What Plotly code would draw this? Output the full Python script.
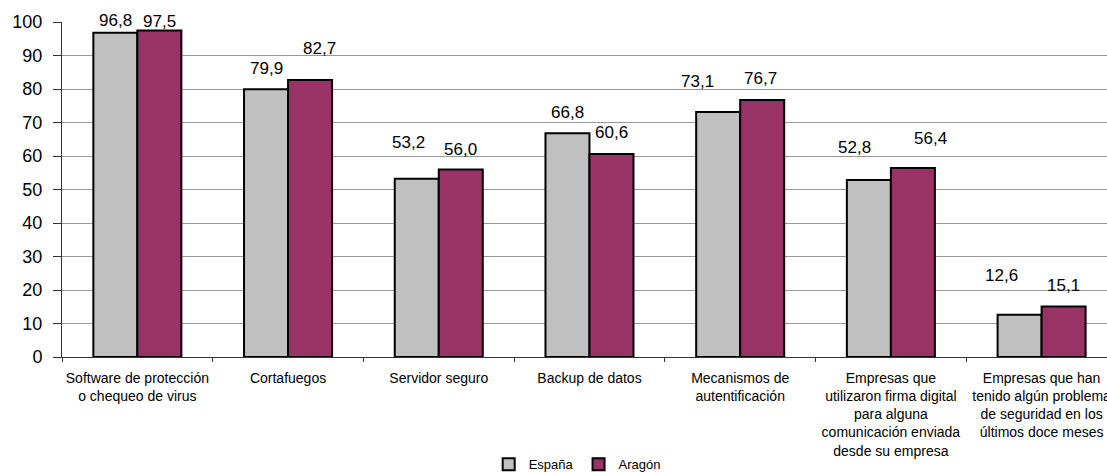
import plotly.graph_objects as go

categories = [
    "Software de protección<br>o chequeo de virus",
    "Cortafuegos",
    "Servidor seguro",
    "Backup de datos",
    "Mecanismos de<br>autentificación",
    "Empresas que<br>utilizaron firma digital<br>para alguna<br>comunicación enviada<br>desde su empresa",
    "Empresas que han<br>tenido algún problema<br>de seguridad en los<br>últimos doce meses",
]
espana = [96.8, 79.9, 53.2, 66.8, 73.1, 52.8, 12.6]
aragon = [97.5, 82.7, 56.0, 60.6, 76.7, 56.4, 15.1]
series_names = ["España", "Aragón"]

# label placement tweaks (pixels), layout only
label_shift_es = [(0, 12), (0, 21), (-8, 36), (0, 21), (-21, 31), (-14, 33), (-18, 39)]
label_shift_ar = [(0, 9), (9, 31), (0, 20), (0, 21), (-2, 22), (18, 30), (0, 21)]

FONT = "Liberation Sans, Arial, sans-serif"
bargap = 0.416

fig = go.Figure()
fig.add_trace(go.Bar(x=categories, y=espana, name=series_names[0],
                     marker=dict(color="#C0C0C0", line=dict(color="#000000", width=2))))
fig.add_trace(go.Bar(x=categories, y=aragon, name=series_names[1],
                     marker=dict(color="#993366", line=dict(color="#000000", width=2))))

half = (1 - bargap) / 4
annos = []
for i in range(len(categories)):
    for vals, shifts, sign in ((espana, label_shift_es, -1), (aragon, label_shift_ar, 1)):
        v = vals[i]
        dx, dy = shifts[i]
        annos.append(dict(x=i + sign * half, y=v, xref="x", yref="y",
                          text=f"{v:.1f}".replace(".", ","), showarrow=False,
                          xanchor="center", yanchor="middle", xshift=dx, yshift=dy,
                          font=dict(family=FONT, size=17, color="#000000")))

fig.update_layout(
    width=1107, height=472,
    margin=dict(l=62, r=0, t=22, b=115, autoexpand=False),
    paper_bgcolor="white", plot_bgcolor="white",
    barmode="group", bargap=bargap, bargroupgap=0,
    font=dict(family=FONT, color="#000000"),
    annotations=annos,
    showlegend=True,
    legend=dict(orientation="h", x=0.493, xanchor="center", y=-0.32, yanchor="middle",
                font=dict(family=FONT, size=13, color="#000000"),
                itemwidth=30, tracegroupgap=0, itemsizing="constant"),
    xaxis=dict(
        type="category",
        range=[-0.5, 6.434], showgrid=False,
        showline=True, linecolor="#333333", linewidth=1,
        ticks="outside", ticklen=4, tickcolor="#333333", tickson="boundaries",
        ticklabeloverflow="allow", tickangle=0, ticklabelstandoff=8,
        tickfont=dict(family=FONT, size=14, color="#000000"),
        automargin=False, zeroline=False,
    ),
    yaxis=dict(
        range=[0, 100], dtick=10, tick0=0,
        showgrid=True, gridcolor="#999999", gridwidth=1,
        showline=True, linecolor="#333333", linewidth=1,
        ticks="outside", ticklen=8, tickcolor="#333333", ticklabelstandoff=7,
        tickfont=dict(family=FONT, size=18, color="#000000"),
        automargin=False, zeroline=False,
    ),
)

fig.write_html(
    "out.html",
    config={"displayModeBar": False},
    post_script="document.body.style.margin='0';document.body.style.overflow='hidden';",
)
